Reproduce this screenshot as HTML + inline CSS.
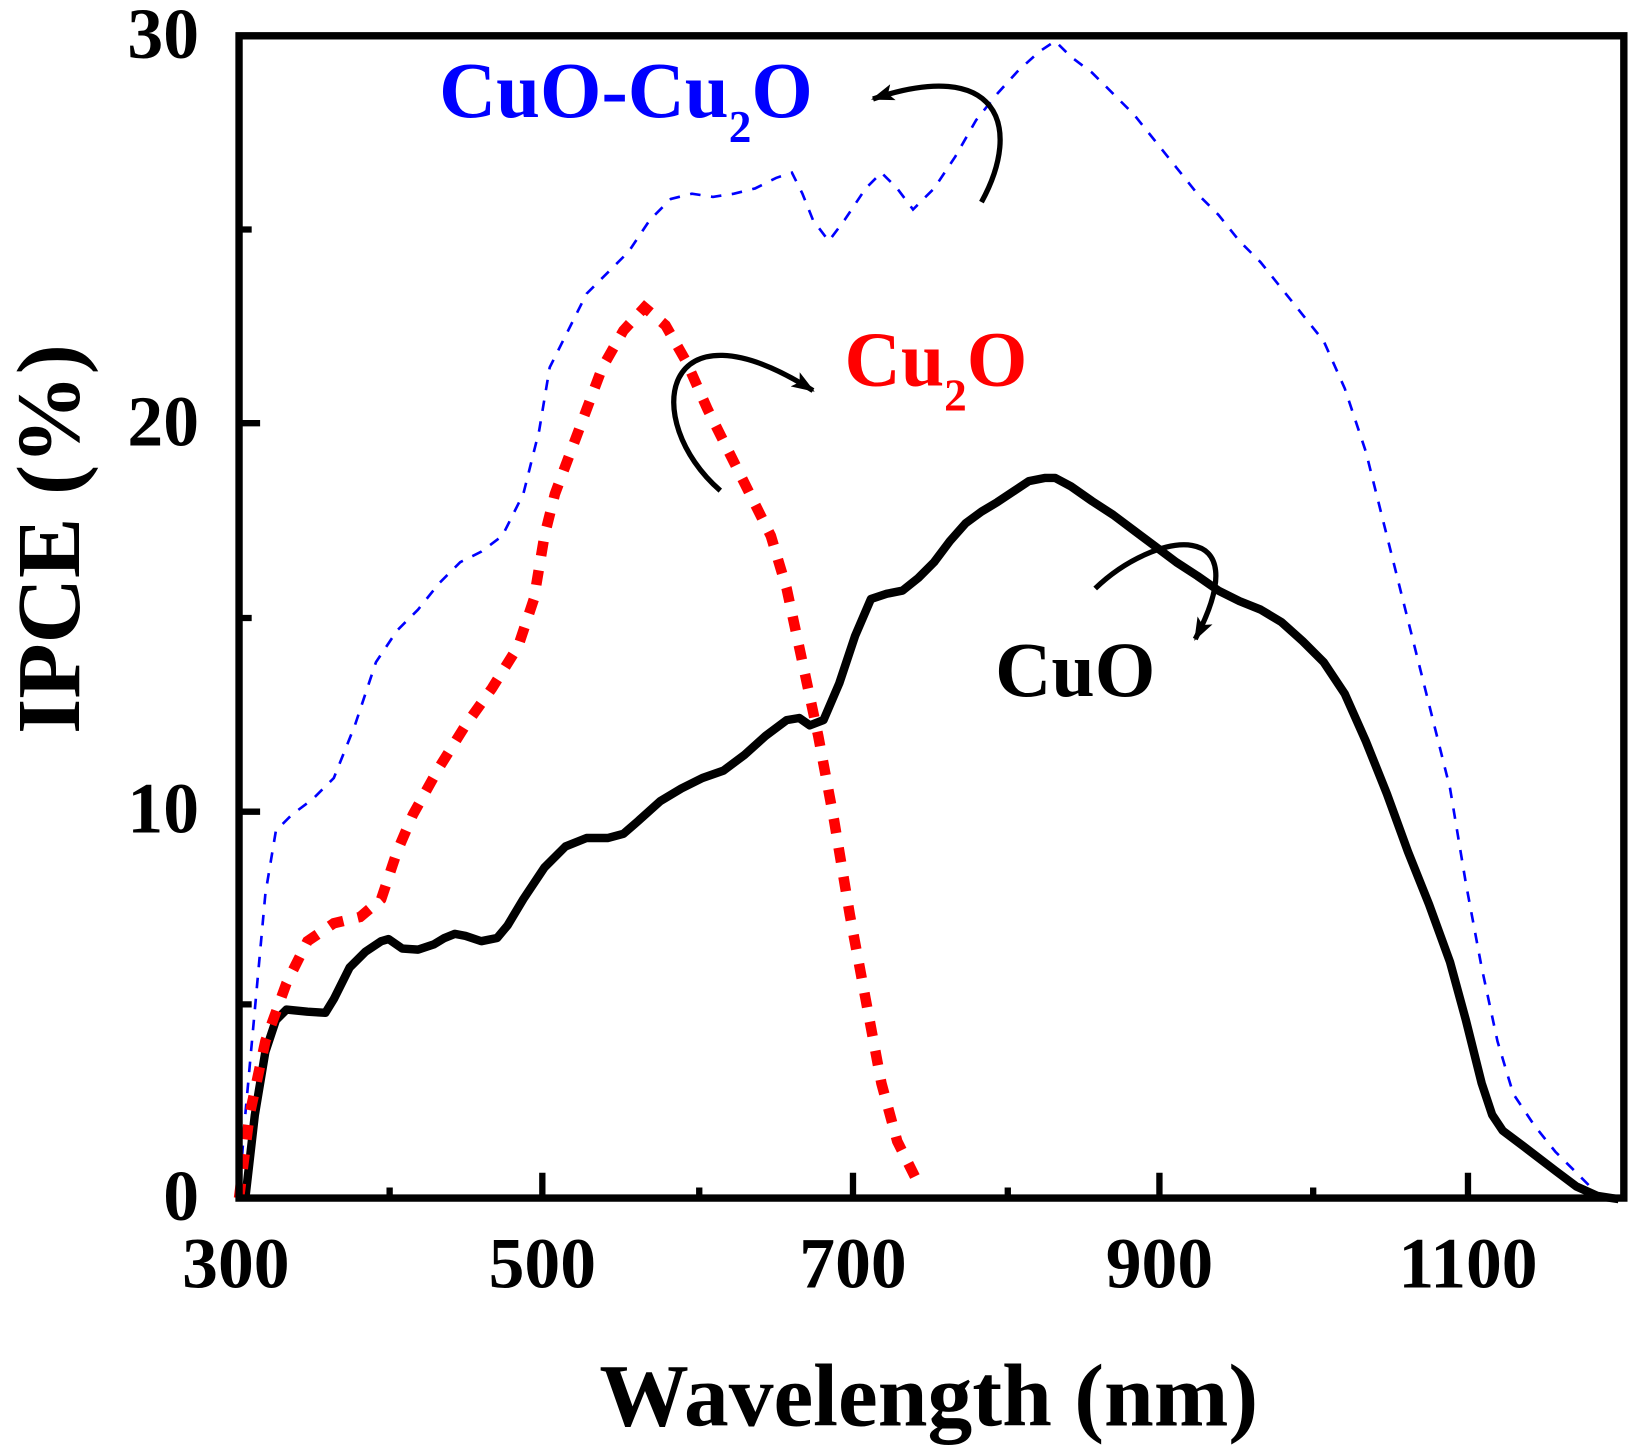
<!DOCTYPE html>
<html><head><meta charset="utf-8"><style>html,body{margin:0;padding:0;background:#fff}svg{display:block}</style></head><body>
<svg width="1647" height="1456" viewBox="3 1 1564 1383" preserveAspectRatio="none" xmlns="http://www.w3.org/2000/svg" font-family="Liberation Serif, serif" font-weight="bold">
<defs>
<marker id="ah" markerWidth="22" markerHeight="16" refX="20" refY="8" orient="auto" markerUnits="userSpaceOnUse" viewBox="0 0 22 16"><path d="M0,0 L22,8 L0,16 L5,8 z" fill="#000"/></marker>
</defs>
<g fill="none" stroke="#000" stroke-width="6">
<path d="M373,1139v-10M518,1139v-24M667,1139v-10M813,1139v-24M960,1139v-10M1104,1139v-24M1250,1139v-10M1397,1139v-24"/>
<path d="M230,955h12M230,772h20M230,588h12M230,403h20M230,219h12"/>
</g>
<polyline fill="none" stroke="#00f" stroke-width="2.5" stroke-dasharray="10 10" points="230,1139 235,1070 245,960 255,850 265,790 280,775 300,760 320,740 340,690 360,630 380,600 400,580 420,555 440,535 460,525 480,510 500,470 515,410 525,350 540,320 560,280 580,260 600,240 620,210 640,190 660,185 680,188 700,185 720,180 740,170 755,165 765,185 775,210 790,230 805,210 825,180 840,165 855,180 870,200 890,180 910,150 930,115 950,90 970,68 990,50 1005,40 1020,55 1040,70 1060,90 1080,110 1100,135 1120,160 1140,185 1160,205 1180,230 1200,250 1220,275 1240,300 1260,325 1280,370 1300,430 1320,510 1340,590 1360,670 1380,750 1395,840 1410,920 1425,990 1440,1040 1460,1070 1480,1095 1500,1115 1520,1135 1540,1139"/>
<polyline fill="none" stroke="#000" stroke-width="8" stroke-linejoin="round" points="236,1139 245,1060 255,1000 265,970 275,960 295,962 312,963 320,950 335,920 350,905 365,895 372,893 385,902 400,903 415,898 425,892 435,888 445,890 460,895 475,892 485,880 500,855 520,825 540,805 560,797 580,797 595,793 610,780 630,762 650,750 670,740 690,733 710,718 730,700 750,685 762,683 772,690 785,685 800,650 815,605 830,570 845,565 860,562 875,550 890,535 905,515 920,498 935,487 950,478 965,468 980,458 995,455 1005,455 1020,463 1040,477 1060,490 1080,505 1100,520 1120,535 1140,548 1160,562 1180,572 1200,580 1220,592 1240,610 1260,630 1280,660 1300,705 1320,755 1340,810 1360,860 1380,915 1395,970 1410,1030 1420,1060 1430,1075 1450,1090 1480,1113 1500,1128 1520,1137 1540,1140"/>
<polyline fill="none" stroke="#f00" stroke-width="10" stroke-dasharray="14 14" points="230,1139 240,1060 255,990 275,935 295,895 320,878 345,872 365,855 380,810 395,775 420,730 445,690 470,655 495,615 510,570 520,510 530,470 545,430 560,390 575,350 595,315 615,293 635,310 655,345 675,390 695,430 715,470 735,510 750,560 765,630 780,700 795,780 810,870 825,950 840,1030 855,1085 875,1125"/>
<rect x="230" y="35" width="1315" height="1104" fill="none" stroke="#000" stroke-width="7"/>
<g fill="none" stroke="#000" stroke-width="5" marker-end="url(#ah)">
<path d="M935,193 C975,120 950,55 832,95"/>
<path d="M687,467 C610,400 630,280 775,372"/>
<path d="M1043,560 C1100,505 1200,490 1138,608"/>
</g>
<g font-size="68" text-anchor="end">
<text x="192" y="56">30</text><text x="192" y="424">20</text><text x="192" y="792">10</text><text x="192" y="1160">0</text>
</g>
<g font-size="68" text-anchor="middle">
<text x="227" y="1224">300</text><text x="518" y="1224">500</text><text x="813" y="1224">700</text><text x="1104" y="1224">900</text><text x="1397" y="1224">1100</text>
</g>
<text x="885" y="1355" font-size="85" text-anchor="middle">Wavelength (nm)</text>
<text transform="translate(78,513) rotate(-90)" font-size="86" text-anchor="middle">IPCE (%)</text>
<text x="420" y="112" font-size="75" fill="#00f">CuO-Cu<tspan font-size="43" dy="24">2</tspan><tspan dy="-24">O</tspan></text>
<text x="805" y="367" font-size="74" fill="#f00">Cu<tspan font-size="43" dy="24">2</tspan><tspan dy="-24">O</tspan></text>
<text x="948" y="662" font-size="74" fill="#000">CuO</text>
</svg>
</body></html>
